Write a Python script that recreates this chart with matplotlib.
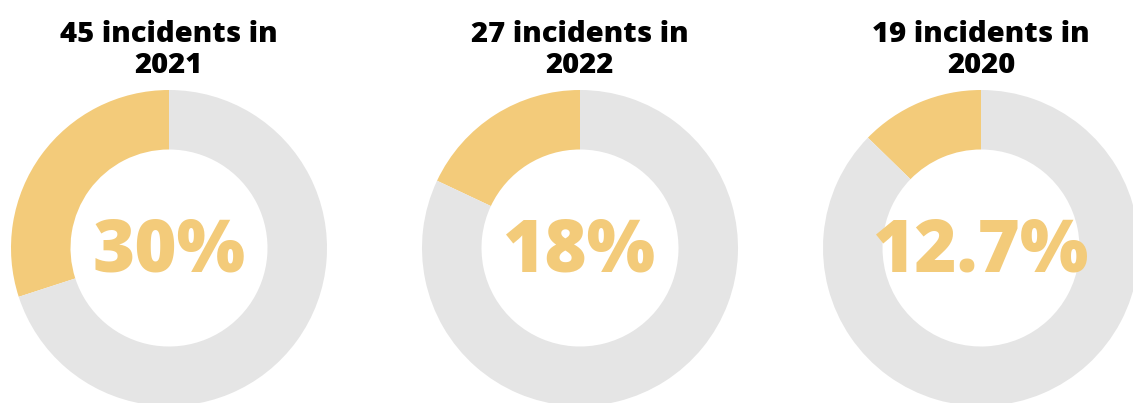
import matplotlib
matplotlib.use("Agg")
import matplotlib.pyplot as plt

# incident counts per year and the share they represent
years = ["2021", "2022", "2020"]
incidents = [45, 27, 19]
share_pct = [30, 18, 12.7]
share_labels = ["30%", "18%", "12.7%"]

W, H = 1133, 403
YELLOW = "#F3CB7A"
GREY = "#E5E5E5"

plt.rcParams["font.family"] = ["Open Sans", "DejaVu Sans"]

fig = plt.figure(figsize=(W / 100, H / 100), dpi=100)
ax = fig.add_axes([0, 0, 1, 1])

centers_x = [169, 580, 981]
cy = H - 248
r_out = 158
r_in = 98.5

for i in range(len(years)):
    cx = centers_x[i]
    p = share_pct[i]
    ax.pie([p, 100 - p], colors=[YELLOW, GREY], startangle=90,
           counterclock=True, center=(cx, cy), radius=r_out,
           wedgeprops=dict(width=r_out - r_in, linewidth=0))
    ax.text(cx, H - 42, f"{incidents[i]} incidents in", ha="center",
            va="baseline", fontsize=21, fontweight=800, color="black")
    ax.text(cx, H - 73, years[i], ha="center", va="baseline",
            fontsize=21, fontweight=800, color="black")
    ax.text(cx, H - 272, share_labels[i], ha="center", va="baseline",
            fontsize=52, fontweight=800, color=YELLOW)

ax.set_xlim(0, W)
ax.set_ylim(0, H)
ax.set_aspect("equal")
ax.axis("off")

fig.savefig("out.png", dpi=100, facecolor="white")
